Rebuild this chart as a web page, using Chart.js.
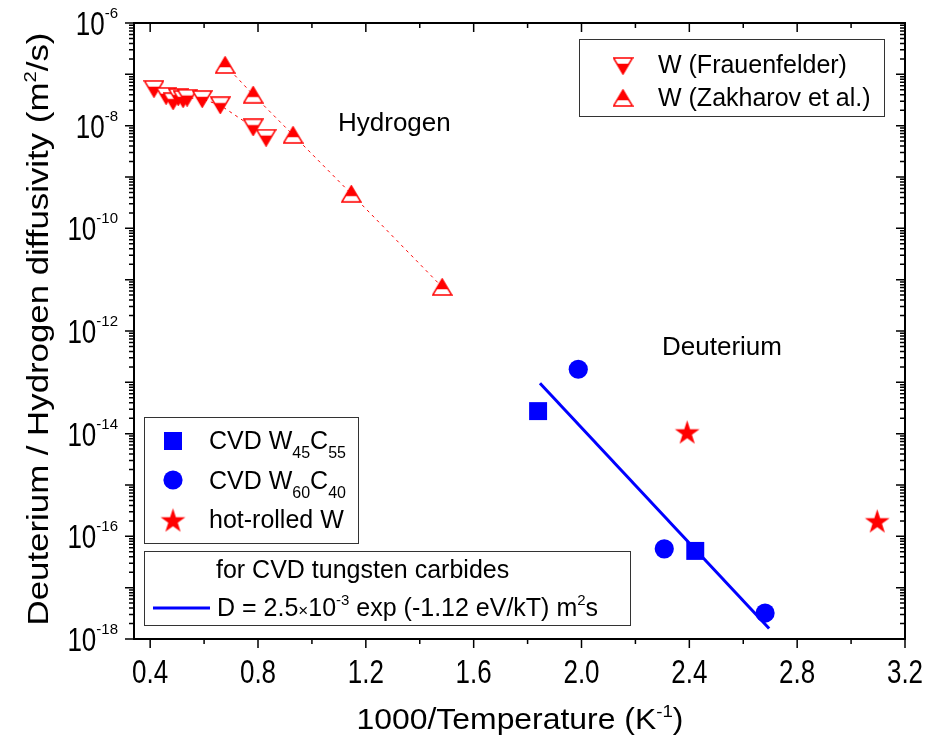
<!DOCTYPE html>
<html>
<head>
<meta charset="utf-8">
<script src="https://cdn.jsdelivr.net/npm/chart.js@4.4.0/dist/chart.umd.min.js"></script>
<style>
    html, body { margin: 0; padding: 0; background: #fff; }
    canvas { display: block; }
</style>
</head>
<body>
<canvas id="chart" width="929" height="742"></canvas>
<script>
// Values: x = 1000/T (1/K), y = diffusivity (m^2/s)
var frauenfelderX = [0.414, 0.459, 0.485, 0.504, 0.522, 0.537, 0.593, 0.66, 0.782, 0.83];
var frauenfelderY = [5.2e-8, 3.8e-8, 3.0e-8, 3.6e-8, 3.3e-8, 3.5e-8, 3.3e-8, 2.5e-8, 9.3e-9, 5.8e-9];

var zakharovX = [0.678, 0.782, 0.93, 1.146, 1.483];
var zakharovY = [1.52e-7, 4.0e-8, 6.6e-9, 4.7e-10, 7.2e-12];

var w45c55X = [1.839, 2.422];
var w45c55Y = [2.75e-14, 5.2e-17];

var w60c40X = [1.988, 2.307, 2.681];
var w60c40Y = [1.8e-13, 5.7e-17, 3.2e-18];

var hotRolledX = [2.392, 3.097];
var hotRolledY = [1.08e-14, 2.0e-16];

// end points of the Arrhenius fit line for the CVD carbides
var fitX = [1.846, 2.696];
var fitY = [9.6e-14, 1.6e-18];

var xTickLabels = ['0.4', '0.8', '1.2', '1.6', '2.0', '2.4', '2.8', '3.2'];
var yTickExponents = [-6, -8, -10, -12, -14, -16, -18];

var RED = '#ff0000';
var BLUE = '#0000ff';
var FONT = '"Liberation Sans", Arial, sans-serif';

function points(xs, ys) {
    return xs.map(function (x, i) { return {x: x, y: ys[i]}; });
}

// Origin style half filled triangles: tip part red, base part white
function makeTriangle(down) {
    var w = 21, h = 18, c = document.createElement('canvas');
    c.width = w; c.height = h;
    var g = c.getContext('2d');
    var tipY = down ? h - 1 : 1, baseY = down ? 1 : h - 1;
    var split = baseY + (tipY - baseY) * 0.36;
    var t = (split - baseY) / (tipY - baseY);
    var half = (w - 2) / 2 * (1 - t);
    g.beginPath();
    g.moveTo(1, baseY); g.lineTo(w - 1, baseY); g.lineTo(w / 2, tipY); g.closePath();
    g.fillStyle = '#fff'; g.fill();
    g.beginPath();
    g.moveTo(w / 2 - half, split); g.lineTo(w / 2 + half, split); g.lineTo(w / 2, tipY); g.closePath();
    g.fillStyle = RED; g.fill();
    g.beginPath();
    g.moveTo(1, baseY); g.lineTo(w - 1, baseY); g.lineTo(w / 2, tipY); g.closePath();
    g.strokeStyle = RED; g.lineWidth = 1.5; g.stroke();
    return c;
}

function makeStar() {
    var s = 27, c = document.createElement('canvas');
    c.width = s; c.height = s;
    var g = c.getContext('2d');
    var R = 13, r = R * 0.382, cx = s / 2, cy = s / 2 + R * 0.095;
    g.beginPath();
    for (var i = 0; i < 10; i++) {
        var rad = i % 2 ? r : R;
        var ang = -Math.PI / 2 + i * Math.PI / 5;
        g.lineTo(cx + rad * Math.cos(ang), cy + rad * Math.sin(ang));
    }
    g.closePath();
    g.fillStyle = RED; g.fill();
    return c;
}

var downTri = makeTriangle(true);
var upTri = makeTriangle(false);
var star = makeStar();

// runs of text pieces {t, size, dy}, optionally stretched by sx / sy
function richWidth(ctx, parts, sx) {
    var w = 0;
    parts.forEach(function (p) {
        ctx.font = p.size + 'px ' + FONT;
        w += ctx.measureText(p.t).width;
    });
    return w * (sx || 1);
}
function drawRich(ctx, x, y, parts, sx, sy) {
    sx = sx || 1;
    parts.forEach(function (p) {
        ctx.font = p.size + 'px ' + FONT;
        ctx.save();
        ctx.translate(x, y + (p.dy || 0));
        ctx.scale(sx, p.noStretch ? 1 : (sy || 1));
        ctx.fillText(p.t, 0, 0);
        ctx.restore();
        x += ctx.measureText(p.t).width * sx;
    });
}

var originAxes = {
    id: 'originAxes',
    afterDraw: function (chart) {
        var ctx = chart.ctx, a = chart.chartArea;
        var xs = chart.scales.x, ys = chart.scales.y;
        ctx.save();
        ctx.strokeStyle = '#000';
        ctx.fillStyle = '#000';

        // x ticks: outward on the bottom, inward on the top
        ctx.lineWidth = 1.5;
        ctx.beginPath();
        xTickLabels.forEach(function (lab, i) {
            var v = parseFloat(lab);
            var px = xs.getPixelForValue(v);
            ctx.moveTo(px, a.bottom); ctx.lineTo(px, a.bottom + 9);
            ctx.moveTo(px, a.top); ctx.lineTo(px, a.top + 9);
            if (i < xTickLabels.length - 1) {
                var mx = xs.getPixelForValue(v + 0.2);
                ctx.moveTo(mx, a.bottom); ctx.lineTo(mx, a.bottom + 5);
                ctx.moveTo(mx, a.top); ctx.lineTo(mx, a.top + 5);
            }
        });
        // y ticks: outward on the left, inward on the right
        for (var e = -18; e <= -6; e++) {
            var py = ys.getPixelForValue(Math.pow(10, e));
            ctx.moveTo(a.left, py); ctx.lineTo(a.left - 9, py);
            ctx.moveTo(a.right, py); ctx.lineTo(a.right - 9, py);
            if (e < -6) {
                for (var m = 2; m <= 9; m++) {
                    var my = ys.getPixelForValue(m * Math.pow(10, e));
                    ctx.moveTo(a.left, my); ctx.lineTo(a.left - 5, my);
                    ctx.moveTo(a.right, my); ctx.lineTo(a.right - 5, my);
                }
            }
        }
        ctx.stroke();

        ctx.lineWidth = 2;
        ctx.strokeRect(a.left, a.top, a.right - a.left, a.bottom - a.top);

        // tick labels (the original font is drawn a bit taller than Arial)
        ctx.textBaseline = 'alphabetic';
        ctx.textAlign = 'left';
        xTickLabels.forEach(function (lab) {
            var parts = [{t: lab, size: 26}];
            var px = xs.getPixelForValue(parseFloat(lab));
            drawRich(ctx, px - richWidth(ctx, parts) / 2, a.bottom + 44, parts, 1, 1.3);
        });
        yTickExponents.forEach(function (ex) {
            var py = ys.getPixelForValue(Math.pow(10, ex));
            var parts = [{t: '10', size: 26, dy: 12}, {t: String(ex), size: 15, dy: -5, noStretch: true}];
            drawRich(ctx, 118 - richWidth(ctx, parts), py, parts, 1, 1.3);
        });

        // axis titles
        var xt = [{t: '1000/Temperature (K', size: 29}, {t: '-1', size: 17, dy: -12}, {t: ')', size: 29}];
        drawRich(ctx, 520 - richWidth(ctx, xt, 1.1) / 2, 729, xt, 1.1, 1);
        var yt = [{t: 'Deuterium / Hydrogen diffusivity (m', size: 29}, {t: '2', size: 17, dy: -12}, {t: '/s)', size: 29}];
        ctx.save();
        ctx.translate(48, 329);
        ctx.rotate(-Math.PI / 2);
        drawRich(ctx, -richWidth(ctx, yt, 1.2) / 2, 0, yt, 1.2, 1);
        ctx.restore();

        // annotations
        ctx.font = '26px ' + FONT;
        ctx.fillText('Hydrogen', 338, 131);
        ctx.fillText('Deuterium', 662, 355);

        // legend boxes
        ctx.lineWidth = 1;
        ctx.strokeStyle = '#333';
        ctx.fillStyle = '#fff';
        [[579, 39, 305, 77], [144, 417, 214, 126], [144, 551, 486, 74]].forEach(function (b) {
            ctx.fillRect(b[0], b[1], b[2], b[3]);
            ctx.strokeRect(b[0] + 0.5, b[1] + 0.5, b[2], b[3]);
        });
        ctx.fillStyle = '#000';

        ctx.drawImage(downTri, 623 - downTri.width / 2, 66 - downTri.height / 2);
        ctx.drawImage(upTri, 623 - upTri.width / 2, 98 - upTri.height / 2);
        drawRich(ctx, 658, 73, [{t: 'W (Frauenfelder)', size: 25}]);
        drawRich(ctx, 658, 106, [{t: 'W (Zakharov et al.)', size: 25}]);

        ctx.fillStyle = BLUE;
        ctx.fillRect(173 - 9, 441 - 9, 18, 18);
        ctx.beginPath(); ctx.arc(173, 480, 9.6, 0, Math.PI * 2); ctx.fill();
        ctx.drawImage(star, 173 - star.width / 2, 520 - star.height / 2);
        ctx.fillStyle = '#000';
        drawRich(ctx, 209, 449, [{t: 'CVD W', size: 25}, {t: '45', size: 16, dy: 9}, {t: 'C', size: 25}, {t: '55', size: 16, dy: 9}]);
        drawRich(ctx, 209, 489, [{t: 'CVD W', size: 25}, {t: '60', size: 16, dy: 9}, {t: 'C', size: 25}, {t: '40', size: 16, dy: 9}]);
        drawRich(ctx, 209, 528, [{t: 'hot-rolled W', size: 25}]);

        drawRich(ctx, 216, 578, [{t: 'for CVD tungsten carbides', size: 25}]);
        ctx.strokeStyle = BLUE; ctx.lineWidth = 3;
        ctx.beginPath(); ctx.moveTo(153, 608); ctx.lineTo(210, 608); ctx.stroke();
        drawRich(ctx, 217, 616, [
            {t: 'D = 2.5', size: 25}, {t: '\u00d7', size: 17}, {t: '10', size: 25},
            {t: '-3', size: 15, dy: -11}, {t: ' exp (-1.12 eV/kT) m', size: 25},
            {t: '2', size: 15, dy: -11}, {t: 's', size: 25}
        ]);
        ctx.restore();
    }
};

var lineDash = {borderColor: RED, borderWidth: 1, borderDash: [3, 4], showLine: true};

new Chart(document.getElementById('chart'), {
    type: 'scatter',
    data: {
        datasets: [
            Object.assign({label: 'W (Frauenfelder)', data: points(frauenfelderX, frauenfelderY),
                pointStyle: downTri}, lineDash),
            Object.assign({label: 'W (Zakharov et al.)', data: points(zakharovX, zakharovY),
                pointStyle: upTri}, lineDash),
            {label: 'fit', data: points(fitX, fitY), showLine: true, borderColor: BLUE,
                borderWidth: 3, pointRadius: 0},
            {label: 'CVD W45C55', data: points(w45c55X, w45c55Y), pointStyle: 'rect',
                pointRadius: 12.7, backgroundColor: BLUE, borderWidth: 0},
            {label: 'CVD W60C40', data: points(w60c40X, w60c40Y), pointStyle: 'circle',
                pointRadius: 9.6, backgroundColor: BLUE, borderWidth: 0},
            {label: 'hot-rolled W', data: points(hotRolledX, hotRolledY), pointStyle: star}
        ]
    },
    options: {
        responsive: false,
        animation: false,
        layout: {padding: {left: 134, top: 23, right: 24, bottom: 103}},
        scales: {
            x: {type: 'linear', min: 0.34, max: 3.2, display: false},
            y: {type: 'logarithmic', min: 1e-18, max: 1e-6, display: false}
        },
        plugins: {legend: {display: false}, tooltip: {enabled: false}}
    },
    plugins: [originAxes]
});
</script>
</body>
</html>
